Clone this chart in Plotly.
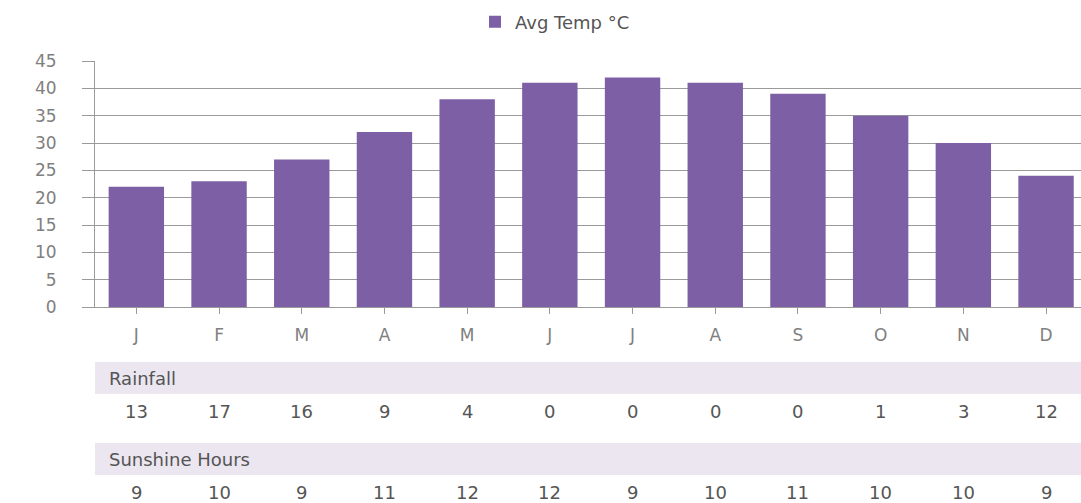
import plotly.graph_objects as go

months = ["J", "F", "M", "A", "M", "J", "J", "A", "S", "O", "N", "D"]
avg_temp = [22, 23, 27, 32, 38, 41, 42, 41, 39, 35, 30, 24]
rainfall = [13, 17, 16, 9, 4, 0, 0, 0, 0, 1, 3, 12]
sunshine = [9, 10, 9, 11, 12, 12, 9, 10, 11, 10, 10, 9]
y_ticks = [0, 5, 10, 15, 20, 25, 30, 35, 40, 45]

W, H = 1081, 503
PLOT_L, PLOT_T, PLOT_B = 95, 61, 307
PLOT_H = PLOT_B - PLOT_T
CAT_W = 82.7

def py(p):
    return (PLOT_B - p) / PLOT_H

def px(p):
    return (p - PLOT_L) / (W - PLOT_L)

x_idx = list(range(len(months)))
x_max = -0.5 + (W - PLOT_L) / CAT_W

FONT = "DejaVu Sans"
BAR = "#7d5fa5"
GRID = "#9a9a9a"
BAND = "#ebe6f0"

fig = go.Figure()
fig.add_trace(go.Bar(
    x=x_idx, y=avg_temp, name="Avg Temp °C",
    marker=dict(color=BAR, line=dict(width=0)),
    width=0.67, hoverinfo="y",
))

shapes = []
annotations = []
for (top, bot, label, values) in [(362, 394, "Rainfall", rainfall),
                                  (443, 475, "Sunshine Hours", sunshine)]:
    shapes.append(dict(type="rect", xref="paper", yref="paper",
                       x0=0, x1=1, y0=py(bot), y1=py(top),
                       fillcolor=BAND, line=dict(width=0), layer="below"))
    annotations.append(dict(xref="paper", yref="paper", x=px(107), y=py((top + bot) / 2),
                            text=label, showarrow=False, xanchor="left", yanchor="middle",
                            font=dict(family=FONT, size=18, color="#555555")))
    for i, v in zip(x_idx, values):
        annotations.append(dict(xref="x", yref="paper", x=i, y=py(bot + 17),
                                text=str(v), showarrow=False, xanchor="center",
                                yanchor="middle",
                                font=dict(family=FONT, size=18, color="#555555")))

fig.update_layout(
    width=W, height=H,
    margin=dict(l=PLOT_L, r=0, t=PLOT_T, b=H - PLOT_B, pad=0),
    paper_bgcolor="white", plot_bgcolor="white",
    bargap=0.33,
    showlegend=True,
    legend=dict(orientation="h", x=px(555), xanchor="center", y=py(22), yanchor="middle",
                font=dict(family=FONT, size=18, color="#555555"),
                bgcolor="rgba(0,0,0,0)"),
    xaxis=dict(range=[-0.5, x_max], tickmode="array", tickvals=x_idx, ticktext=months,
               tickson="boundaries", ticks="outside", ticklen=6, tickcolor=GRID,
               showline=True, linecolor=GRID, linewidth=1, showgrid=False,
               zeroline=False, ticklabelstandoff=7,
               tickfont=dict(family=FONT, size=17, color="#808080")),
    yaxis=dict(range=[0, 45], tickmode="array", tickvals=y_ticks,
               ticks="outside", ticklen=12, tickcolor=GRID,
               showline=True, linecolor=GRID, linewidth=1,
               showgrid=True, gridcolor=GRID, gridwidth=1, zeroline=False,
               ticklabelstandoff=22,
               tickfont=dict(family=FONT, size=17, color="#808080")),
    shapes=shapes, annotations=annotations,
)

fig.write_html(
    "out.html",
    config={"displayModeBar": False},
    post_script="document.body.style.margin='0';document.body.style.overflow='hidden';",
)
